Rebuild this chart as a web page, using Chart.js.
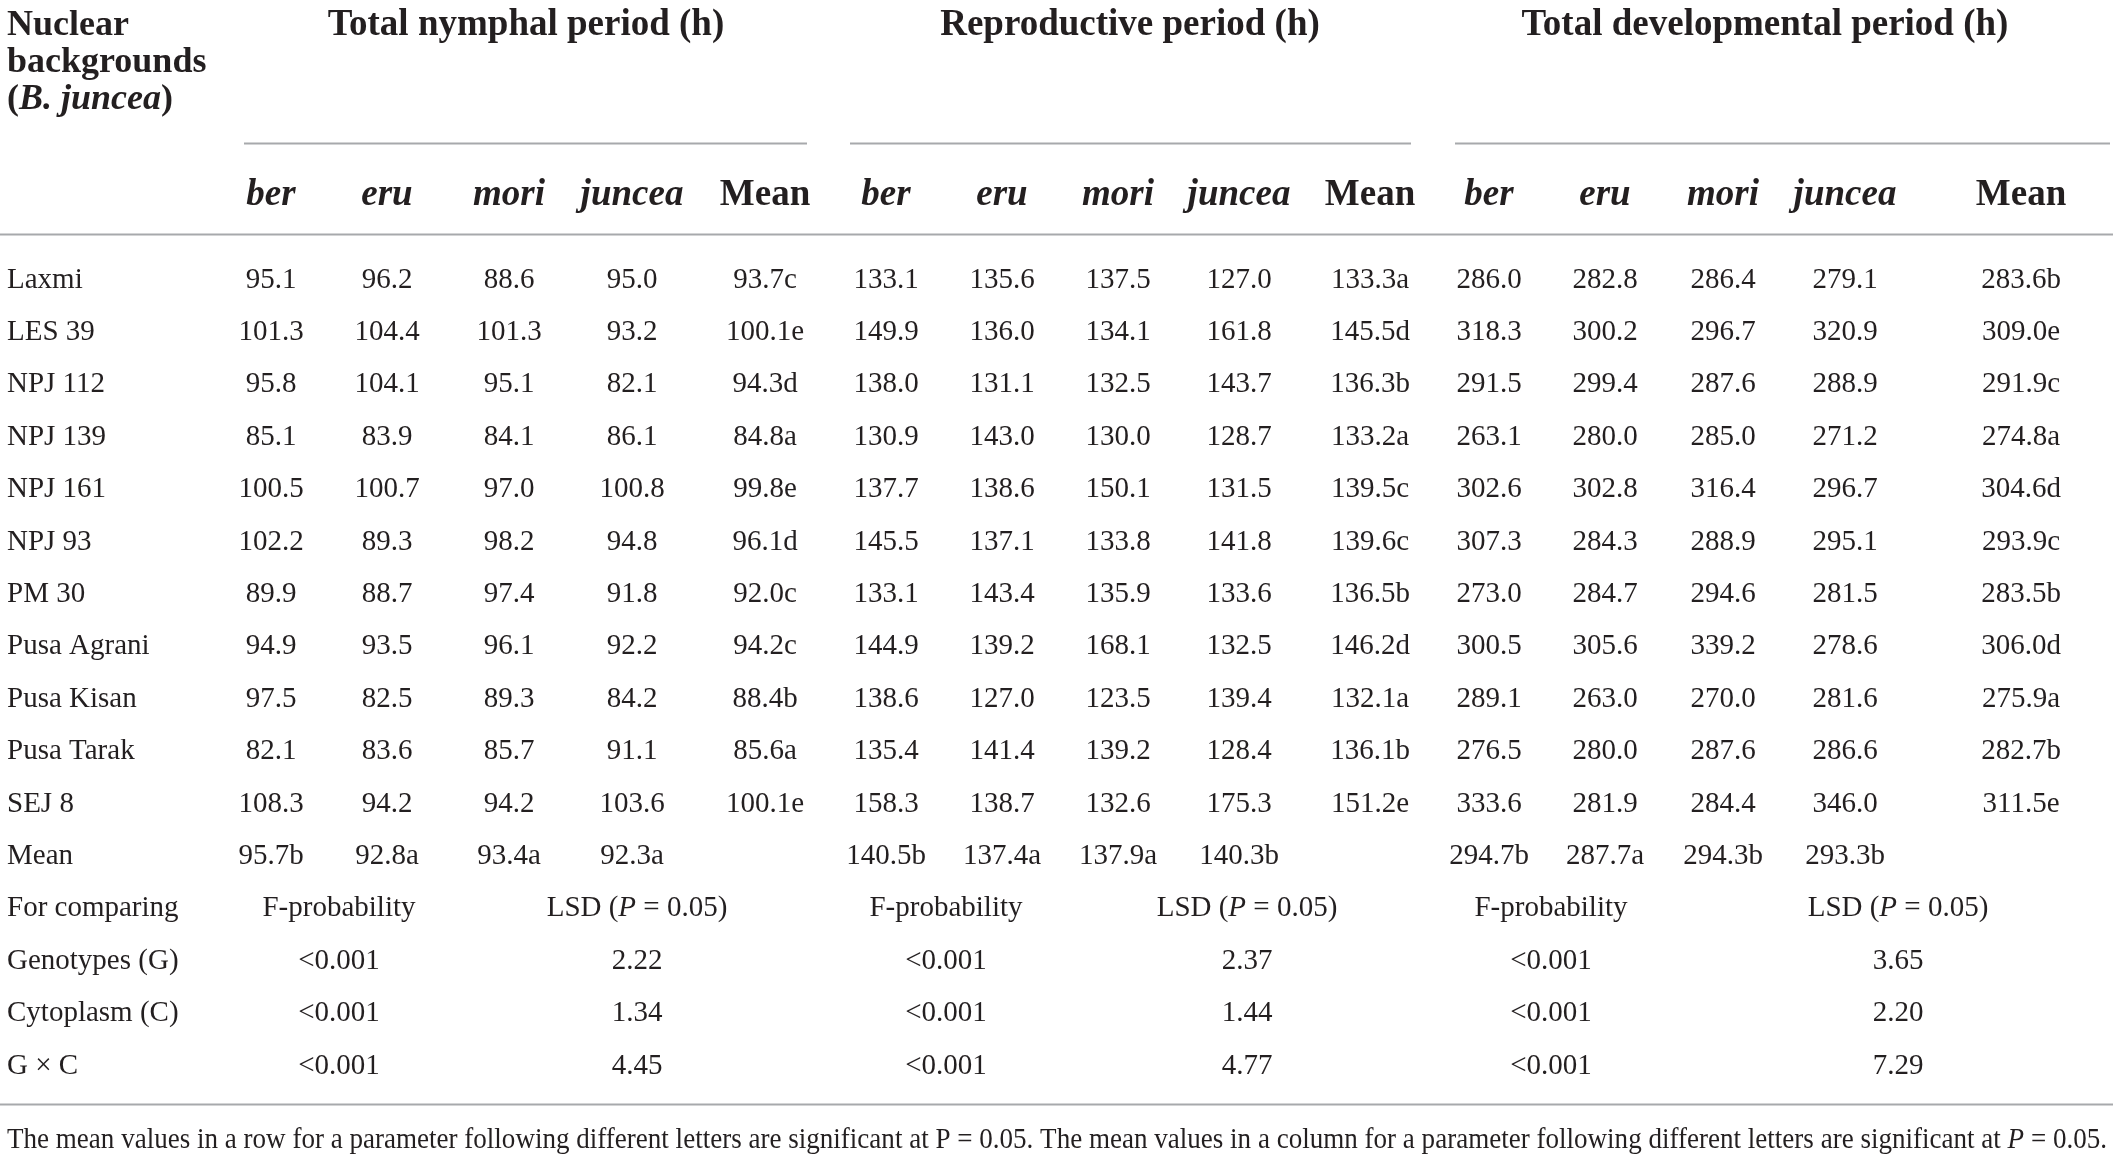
<!DOCTYPE html>
<html>
<head>
<meta charset="utf-8">
<script src="https://cdn.jsdelivr.net/npm/chart.js@4.4.0/dist/chart.umd.min.js"></script>
<style>
html, body { margin: 0; padding: 0; background: #fff; }
canvas { display: block; }
</style>
</head>
<body>
<canvas id="tabla" width="2117" height="1158"></canvas>
<script>
const genotypes = ['Laxmi', 'LES 39', 'NPJ 112', 'NPJ 139', 'NPJ 161', 'NPJ 93', 'PM 30', 'Pusa Agrani', 'Pusa Kisan', 'Pusa Tarak', 'SEJ 8'];
const cytoplasms = ['ber', 'eru', 'mori', 'juncea'];
const periods = ['Total nymphal period (h)', 'Reproductive period (h)', 'Total developmental period (h)'];

const nymphBer = [95.1, 101.3, 95.8, 85.1, 100.5, 102.2, 89.9, 94.9, 97.5, 82.1, 108.3];
const nymphEru = [96.2, 104.4, 104.1, 83.9, 100.7, 89.3, 88.7, 93.5, 82.5, 83.6, 94.2];
const nymphMori = [88.6, 101.3, 95.1, 84.1, 97.0, 98.2, 97.4, 96.1, 89.3, 85.7, 94.2];
const nymphJuncea = [95.0, 93.2, 82.1, 86.1, 100.8, 94.8, 91.8, 92.2, 84.2, 91.1, 103.6];
const nymphRowMean = ['93.7c', '100.1e', '94.3d', '84.8a', '99.8e', '96.1d', '92.0c', '94.2c', '88.4b', '85.6a', '100.1e'];
const nymphColMean = ['95.7b', '92.8a', '93.4a', '92.3a'];

const reproBer = [133.1, 149.9, 138.0, 130.9, 137.7, 145.5, 133.1, 144.9, 138.6, 135.4, 158.3];
const reproEru = [135.6, 136.0, 131.1, 143.0, 138.6, 137.1, 143.4, 139.2, 127.0, 141.4, 138.7];
const reproMori = [137.5, 134.1, 132.5, 130.0, 150.1, 133.8, 135.9, 168.1, 123.5, 139.2, 132.6];
const reproJuncea = [127.0, 161.8, 143.7, 128.7, 131.5, 141.8, 133.6, 132.5, 139.4, 128.4, 175.3];
const reproRowMean = ['133.3a', '145.5d', '136.3b', '133.2a', '139.5c', '139.6c', '136.5b', '146.2d', '132.1a', '136.1b', '151.2e'];
const reproColMean = ['140.5b', '137.4a', '137.9a', '140.3b'];

const devBer = [286.0, 318.3, 291.5, 263.1, 302.6, 307.3, 273.0, 300.5, 289.1, 276.5, 333.6];
const devEru = [282.8, 300.2, 299.4, 280.0, 302.8, 284.3, 284.7, 305.6, 263.0, 280.0, 281.9];
const devMori = [286.4, 296.7, 287.6, 285.0, 316.4, 288.9, 294.6, 339.2, 270.0, 287.6, 284.4];
const devJuncea = [279.1, 320.9, 288.9, 271.2, 296.7, 295.1, 281.5, 278.6, 281.6, 286.6, 346.0];
const devRowMean = ['283.6b', '309.0e', '291.9c', '274.8a', '304.6d', '293.9c', '283.5b', '306.0d', '275.9a', '282.7b', '311.5e'];
const devColMean = ['294.7b', '287.7a', '294.3b', '293.3b'];

const comparisons = ['Genotypes (G)', 'Cytoplasm (C)', 'G × C'];
const fProb = ['<0.001', '<0.001', '<0.001'];
const nymphLsd = [2.22, 1.34, 4.45];
const reproLsd = [2.37, 1.44, 4.77];
const devLsd = [3.65, 2.20, 7.29];

const footnote = 'The mean values in a row for a parameter following different letters are significant at P = 0.05. The mean values in a column for a parameter following different letters are significant at ';

// ---- disposicion (posiciones en unidades de las escalas) ----
const colX = [[271, 387, 509, 632, 765], [886, 1002, 1118, 1239, 1370], [1489, 1605, 1723, 1845, 2021]];
const statX = [[339, 637], [946, 1247], [1551, 1898]];
const titleX = [526, 1130, 1765];
const groupLine = [[244, 807], [850, 1411], [1455, 2110]];
const labelX = 7;
const rowTitle = -4.86, rowNuclear = [-4.86, -4.15, -3.44], rowHeader = -1.62;
const rowGroupLine = -2.576, rowHeadLine = -0.84, rowBottomLine = 15.76, rowFoot = 16.42;

const serif = '"Liberation Serif", "DejaVu Serif", serif';
const fBody = '29px ' + serif;
const fItal = 'italic 29px ' + serif;
const fBold = 'bold 37px ' + serif;
const fBoldIt = 'italic bold 37px ' + serif;
const fNuc = 'bold 36px ' + serif;
const fNucIt = 'italic bold 36px ' + serif;
const ink = '#231f20';

const fmt = v => v.toFixed(1);
const fmt2 = v => v.toFixed(2);

const allSeries = [
    [nymphBer, nymphEru, nymphMori, nymphJuncea, nymphRowMean, nymphColMean, nymphLsd],
    [reproBer, reproEru, reproMori, reproJuncea, reproRowMean, reproColMean, reproLsd],
    [devBer, devEru, devMori, devJuncea, devRowMean, devColMean, devLsd]
];

// cada celda es un punto del grafico; el texto se dibuja en su posicion
let datasets = [];

// etiquetas de filas
const rowLabels = genotypes.concat(['Mean', 'For comparing'], comparisons);
datasets.push({
    data: rowLabels.map((t, i) => ({ x: labelX, y: i })),
    textos: rowLabels.map(t => [[t, fBody]]),
    align: 'left'
});

allSeries.forEach((s, p) => {
    for (let c = 0; c < 4; c++) {
        let vals = s[c].map(fmt).concat([s[5][c]]);
        datasets.push({
            data: vals.map((v, i) => ({ x: colX[p][c], y: i })),
            textos: vals.map(v => [[v, fBody]]),
            align: 'center'
        });
    }
    datasets.push({
        data: s[4].map((v, i) => ({ x: colX[p][4], y: i })),
        textos: s[4].map(v => [[v, fBody]]),
        align: 'center'
    });
    // F-probability
    datasets.push({
        data: [12, 13, 14, 15].map(i => ({ x: statX[p][0], y: i })),
        textos: [[['F-probability', fBody]]].concat(fProb.map(v => [[v, fBody]])),
        align: 'center'
    });
    // LSD
    datasets.push({
        data: [12, 13, 14, 15].map(i => ({ x: statX[p][1], y: i })),
        textos: [[['LSD (', fBody], ['P', fItal], [' = 0.05)', fBody]]].concat(s[6].map(v => [[fmt2(v), fBody]])),
        align: 'center'
    });
});

function drawRich(ctx, segs, x, y, align, maxW) {
    let widths = segs.map(s => { ctx.font = s[1]; return ctx.measureText(s[0]).width; });
    let total = widths.reduce((a, b) => a + b, 0);
    let k = (maxW && total > maxW) ? maxW / total : 1;
    let start = align === 'left' ? x : (align === 'right' ? x - total * k : x - total * k / 2);
    ctx.save();
    ctx.translate(start, y + 2);
    ctx.scale(k, 1);
    ctx.fillStyle = ink;
    ctx.textAlign = 'left';
    ctx.textBaseline = 'middle';
    let cx = 0;
    segs.forEach((s, i) => { ctx.font = s[1]; ctx.fillText(s[0], cx, 0); cx += widths[i]; });
    ctx.restore();
}

const tablaPlugin = {
    id: 'tabla',
    beforeDraw(chart) {
        const ctx = chart.ctx;
        ctx.save();
        ctx.fillStyle = '#fff';
        ctx.fillRect(0, 0, chart.width, chart.height);
        ctx.restore();
    },
    afterDatasetsDraw(chart) {
        const ctx = chart.ctx;
        const xs = chart.scales.x, ys = chart.scales.y;

        // lineas
        ctx.save();
        ctx.strokeStyle = '#a7a9ac';
        ctx.lineWidth = 2;
        const hline = (x0, x1, r) => {
            let y = Math.round(ys.getPixelForValue(r)) + 0.5;
            ctx.beginPath();
            ctx.moveTo(xs.getPixelForValue(x0), y);
            ctx.lineTo(xs.getPixelForValue(x1), y);
            ctx.stroke();
        };
        groupLine.forEach(g => hline(g[0], g[1], rowGroupLine));
        hline(0, 2113, rowHeadLine);
        hline(0, 2113, rowBottomLine);
        ctx.restore();

        // encabezados
        drawRich(ctx, [['Nuclear', fNuc]], xs.getPixelForValue(labelX), ys.getPixelForValue(rowNuclear[0]), 'left');
        drawRich(ctx, [['backgrounds', fNuc]], xs.getPixelForValue(labelX), ys.getPixelForValue(rowNuclear[1]), 'left');
        drawRich(ctx, [['(', fNuc], ['B. juncea', fNucIt], [')', fNuc]], xs.getPixelForValue(labelX), ys.getPixelForValue(rowNuclear[2]), 'left');
        periods.forEach((t, p) => {
            drawRich(ctx, [[t, fBold]], xs.getPixelForValue(titleX[p]), ys.getPixelForValue(rowTitle), 'center');
            cytoplasms.forEach((c, i) => {
                drawRich(ctx, [[c, fBoldIt]], xs.getPixelForValue(colX[p][i]), ys.getPixelForValue(rowHeader), 'center');
            });
            drawRich(ctx, [['Mean', fBold]], xs.getPixelForValue(colX[p][4]), ys.getPixelForValue(rowHeader), 'center');
        });

        // celdas
        chart.data.datasets.forEach((ds, d) => {
            const meta = chart.getDatasetMeta(d);
            meta.data.forEach((el, i) => {
                drawRich(ctx, ds.textos[i], el.x, el.y, ds.align);
            });
        });

        // nota al pie
        drawRich(ctx, [[footnote, fBody], ['P', fItal], [' = 0.05.', fBody]],
            xs.getPixelForValue(labelX), ys.getPixelForValue(rowFoot), 'left', 2100);
    }
};

new Chart(document.getElementById('tabla'), {
    type: 'scatter',
    data: { datasets: datasets.map(d => Object.assign(d, { pointRadius: 0, pointHoverRadius: 0 })) },
    options: {
        responsive: false,
        devicePixelRatio: 1,
        animation: false,
        events: [],
        layout: { padding: 0 },
        plugins: { legend: { display: false }, tooltip: { enabled: false } },
        scales: {
            x: { type: 'linear', display: false, min: 0, max: 2117 },
            y: { type: 'linear', display: false, min: -5.305, max: 16.794, reverse: true }
        }
    },
    plugins: [tablaPlugin]
});
</script>
</body>
</html>
